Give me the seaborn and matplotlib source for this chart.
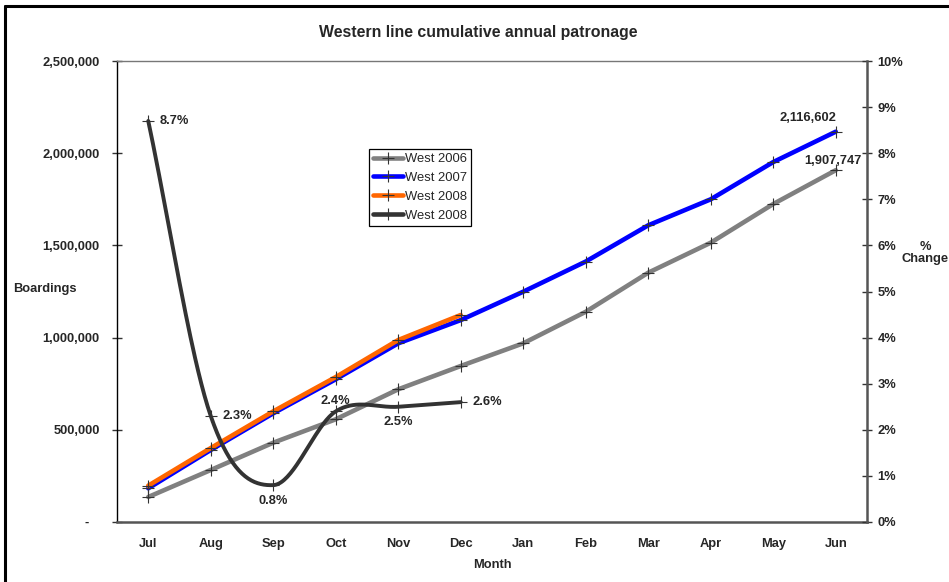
import numpy as np
import pandas as pd
import matplotlib
matplotlib.use("Agg")
import matplotlib.pyplot as plt
import seaborn as sns
from matplotlib.ticker import FixedLocator, MultipleLocator, FuncFormatter, NullFormatter
from matplotlib.lines import Line2D

# ---- data ---------------------------------------------------------------
months = ["Jul", "Aug", "Sep", "Oct", "Nov", "Dec",
          "Jan", "Feb", "Mar", "Apr", "May", "Jun"]
west_2006 = [135600, 282000, 430000, 557000, 719600, 846000,
             969000, 1140000, 1352000, 1514700, 1724500, 1907747]
west_2007 = [182700, 390500, 589500, 774000, 969000, 1095000,
             1249000, 1412500, 1609000, 1750000, 1952000, 2116602]
west_2008 = [197000, 401000, 600000, 786000, 987000, 1122600]
pct_change_2008 = [8.7, 2.3, 0.8, 2.4, 2.5, 2.6]

series_labels = ["West 2006", "West 2007", "West 2008", "West 2008"]

# ---- style --------------------------------------------------------------
sns.set_style("white")
plt.rcParams["font.family"] = ["Liberation Sans", "DejaVu Sans"]
plt.rcParams["font.weight"] = "bold"

FS = 9.3
C06, C07, C08, CPCT = "#808080", "#0000ff", "#ff6600", "#333333"
MK = dict(marker="+", markersize=8.6, markeredgecolor="#333333",
          markeredgewidth=0.8)

fig = plt.figure(figsize=(9.49, 5.82), dpi=100)
ax = fig.add_axes([117 / 949, 1 - 522 / 582, 750 / 949, 461 / 582])

x_all = np.arange(len(months))
x_08 = np.arange(len(west_2008))

df06 = pd.DataFrame({"month": x_all, "boardings": west_2006})
df07 = pd.DataFrame({"month": x_all, "boardings": west_2007})
df08 = pd.DataFrame({"month": x_08, "boardings": west_2008})
dfp = pd.DataFrame({"month": x_08, "pct": pct_change_2008})

sns.lineplot(data=df06, x="month", y="boardings", ax=ax, color=C06,
             lw=3.3, errorbar=None, zorder=2, **MK)
sns.lineplot(data=df07, x="month", y="boardings", ax=ax, color=C07,
             lw=3.3, errorbar=None, zorder=3, **MK)
sns.lineplot(data=df08, x="month", y="boardings", ax=ax, color=C08,
             lw=3.3, errorbar=None, zorder=4, **MK)

# secondary axis: percentage change, drawn as a smoothed curve
ax2 = ax.twinx()


def smooth_curve(xs, ys, steps=40):
    """Cubic Bezier smoothing through every point (spreadsheet style)."""
    xs = np.asarray(xs, float)
    ys = np.asarray(ys, float)
    n = len(ys)
    m = np.empty(n)
    for i in range(n):
        if i == 0:
            m[i] = ys[1] - ys[0]
        elif i == n - 1:
            m[i] = ys[-1] - ys[-2]
        else:
            m[i] = (ys[i + 1] - ys[i - 1]) / 2.0
    out_x, out_y = [], []
    for i in range(n - 1):
        t = np.linspace(0, 1, steps, endpoint=(i == n - 2))
        h00 = 2 * t**3 - 3 * t**2 + 1
        h10 = t**3 - 2 * t**2 + t
        h01 = -2 * t**3 + 3 * t**2
        h11 = t**3 - t**2
        out_x.append(xs[i] + t * (xs[i + 1] - xs[i]))
        out_y.append(h00 * ys[i] + h10 * m[i] + h01 * ys[i + 1] + h11 * m[i + 1])
    return np.concatenate(out_x), np.concatenate(out_y)


sx, sy = smooth_curve(dfp["month"], dfp["pct"])
sns.lineplot(x=sx, y=sy, ax=ax2, color=CPCT, lw=2.8, sort=False,
             estimator=None, zorder=5)
sns.lineplot(data=dfp, x="month", y="pct", ax=ax2, linestyle="",
             errorbar=None, zorder=6, **MK)

# ---- axes ---------------------------------------------------------------
ax.set_xlim(-0.5, len(months) - 0.5)
ax.set_ylim(0, 2500000)
ax2.set_ylim(0, 10)

ax.xaxis.set_major_locator(FixedLocator(np.arange(-0.5, len(months), 1)))
ax.xaxis.set_major_formatter(NullFormatter())
ax.set_xticks(x_all, minor=True)
ax.set_xticklabels(months, minor=True)
ax.tick_params(axis="x", which="major", direction="inout", length=7,
               width=1, color="#333333")
ax.tick_params(axis="x", which="minor", length=0, pad=11.5, labelsize=FS)

ax.yaxis.set_major_locator(MultipleLocator(500000))
ax.yaxis.set_major_formatter(
    FuncFormatter(lambda v, p: "-   " if v == 0 else f"{v:,.0f}"))
ax.tick_params(axis="y", direction="inout", length=7, width=1,
               color="#333333", pad=9, labelsize=FS)

ax2.yaxis.set_major_locator(MultipleLocator(1))
ax2.yaxis.set_major_formatter(FuncFormatter(lambda v, p: f"{v:.0f}%"))
ax2.tick_params(axis="y", direction="inout", length=7, width=1,
                color="#333333", pad=4, labelsize=FS)

for name, sp in ax.spines.items():
    sp.set_visible(True)
ax.spines["left"].set_color("#000000")
ax.spines["left"].set_linewidth(1.0)
ax.spines["bottom"].set_color("#555555")
ax.spines["bottom"].set_linewidth(1.8)
ax.spines["top"].set_color("#777777")
ax.spines["top"].set_linewidth(1.0)
ax.spines["right"].set_visible(False)
for name in ["left", "top", "bottom"]:
    ax2.spines[name].set_visible(False)
ax2.spines["right"].set_visible(True)
ax2.spines["right"].set_color("#555555")
ax2.spines["right"].set_linewidth(1.8)

ax.set_xlabel("Month", fontsize=FS, fontweight="bold")
ax.xaxis.set_label_coords(0.5, -0.0935)
ax.xaxis.label.set_va("center")
ax.set_ylabel("Boardings", fontsize=FS, fontweight="bold", rotation=0,
              ha="center", va="center")
ax.yaxis.set_label_coords(-0.0967, 0.5048)
ax2.set_ylabel("%\nChange", fontsize=FS, fontweight="bold", rotation=0,
               ha="center", va="center", linespacing=1.0)
ax2.yaxis.set_label_coords(1.078, 0.5835)

fig.text(478 / 949, 1 - 32 / 582, "Western line cumulative annual patronage",
         ha="center", va="center", fontsize=11.4, fontweight="bold")

# ---- data labels --------------------------------------------------------
pct_offsets = [(7.9, 0, "left"), (8.4, 0, "left"), (0, -11.5, "center"),
               (0, 7.2, "center"), (0, -10.8, "center"), (8.2, 0, "left")]
for xi, v, (dx, dy, ha) in zip(dfp["month"], dfp["pct"], pct_offsets):
    ax2.annotate(f"{v:.1f}%", (xi, v), xytext=(dx, dy),
                 textcoords="offset points", ha=ha, va="center",
                 fontsize=FS, fontweight="bold", zorder=7)

ax.annotate(f"{west_2007[-1]:,}", (x_all[-1], west_2007[-1]),
            xytext=(0.7, 10.2), textcoords="offset points", ha="right",
            va="center", fontsize=FS, fontweight="bold")
ax.annotate(f"{west_2006[-1]:,}", (x_all[-1], west_2006[-1]),
            xytext=(-1.9, 6.3), textcoords="offset points", ha="center",
            va="center", fontsize=FS, fontweight="bold")

# ---- legend -------------------------------------------------------------
handles = [Line2D([], [], color=c, lw=3.3, **MK)
           for c in (C06, C07, C08, CPCT)]
leg = ax2.legend(handles, series_labels, loc="upper left",
                 bbox_to_anchor=(0.336, 0.809), borderaxespad=0,
                 frameon=True, fancybox=False, edgecolor="black",
                 framealpha=1, prop={"weight": "normal", "size": 9.4},
                 handlelength=2.3, handletextpad=0.15, borderpad=0.3,
                 labelspacing=0.52)
leg.get_frame().set_linewidth(0.9)

# ---- chart border -------------------------------------------------------
fig.add_artist(Line2D([4.5 / 949, 4.5 / 949], [0, 1 - 5.5 / 582],
                      transform=fig.transFigure, color="black", lw=2.2))
fig.add_artist(Line2D([4.5 / 949, 1], [1 - 5.5 / 582, 1 - 5.5 / 582],
                      transform=fig.transFigure, color="black", lw=2.2))

fig.savefig("out.png", dpi=100, facecolor="white")
